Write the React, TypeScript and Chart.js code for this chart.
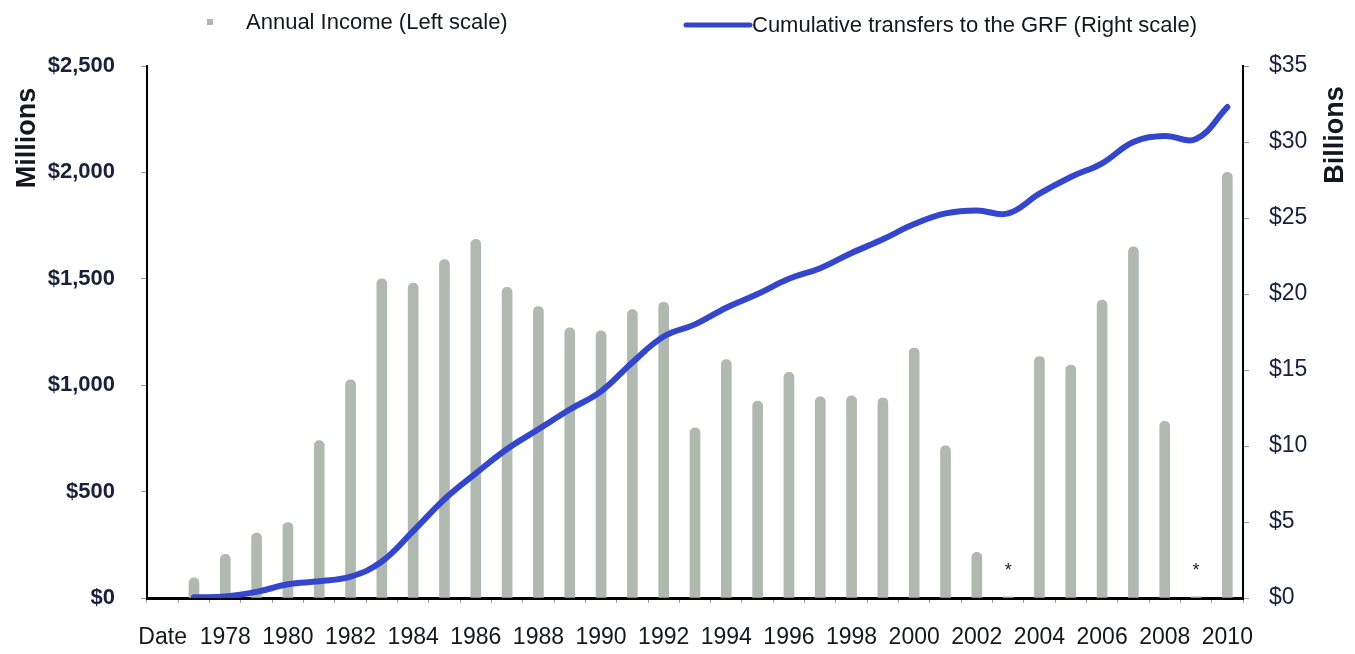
import React, { useEffect, useRef } from 'react';
import { Chart, registerables } from 'chart.js';

Chart.register(...registerables);

const categories = [
  'Date', '1977', '1978', '1979', '1980', '1981', '1982', '1983', '1984', '1985', '1986',
  '1987', '1988', '1989', '1990', '1991', '1992', '1993', '1994', '1995', '1996',
  '1997', '1998', '1999', '2000', '2001', '2002', '2003', '2004', '2005', '2006',
  '2007', '2008', '2009', '2010',
];

// Annual income, $ millions (left scale)
const annualIncome = [
  null, 95, 205, 305, 355, 740, 1025, 1500, 1480, 1590, 1685,
  1460, 1370, 1270, 1255, 1355, 1390, 800, 1120, 925, 1060,
  945, 950, 940, 1175, 715, 215, 5, 1135, 1095, 1400,
  1650, 830, 5, 2000,
];

// Cumulative transfers to the GRF, $ billions (right scale)
const cumulativeTransfers = [
  null, 0.05, 0.1, 0.4, 0.9, 1.1, 1.4, 2.4, 4.4, 6.5, 8.2,
  9.8, 11.1, 12.4, 13.6, 15.5, 17.2, 18.0, 19.1, 20.0, 21.0,
  21.7, 22.7, 23.6, 24.6, 25.3, 25.5, 25.3, 26.6, 27.7, 28.6,
  30.0, 30.4, 30.2, 32.3,
];

// Footnote markers shown above some years
const notes = [
  '', '', '', '', '', '', '', '', '', '', '',
  '', '', '', '', '', '', '', '', '', '',
  '', '', '', '', '', '', '*', '', '', '',
  '', '', '*', '',
];

const leftTicks = [0, 500, 1000, 1500, 2000, 2500];
const rightTicks = [0, 5, 10, 15, 20, 25, 30, 35];

const seriesLabels = ['Annual Income (Left scale)', 'Cumulative transfers to the GRF (Right scale)'];
const axisTitles = ['Millions', 'Billions'];

const FONT = '"Liberation Sans", Arial, Helvetica, sans-serif';
const BAR_COLOR = '#b0b9b0';
const LINE_COLOR = '#3447cc';
const TEXT = '#15171f';

const decorPlugin = {
  id: 'decor',
  afterDraw(chart: any) {
    const ctx = chart.ctx as CanvasRenderingContext2D;
    ctx.save();
    // legend
    ctx.fillStyle = BAR_COLOR;
    ctx.fillRect(207, 19, 6, 6);
    ctx.font = `22px ${FONT}`;
    ctx.fillStyle = TEXT;
    ctx.textAlign = 'left';
    ctx.textBaseline = 'middle';
    ctx.fillText(chart.data.datasets[0].label, 246, 23);
    ctx.strokeStyle = LINE_COLOR;
    ctx.lineWidth = 5;
    ctx.lineCap = 'round';
    ctx.beginPath();
    ctx.moveTo(686, 25);
    ctx.lineTo(750, 25);
    ctx.stroke();
    ctx.fillText(chart.data.datasets[1].label, 752, 26);

    // axis titles (both read bottom-to-top)
    ctx.font = `bold 27px ${FONT}`;
    ctx.textAlign = 'center';
    ctx.textBaseline = 'middle';
    ctx.fillStyle = TEXT;
    ctx.save();
    ctx.translate(28, 138);
    ctx.rotate(-Math.PI / 2);
    ctx.fillText(axisTitles[0], 0, 0);
    ctx.restore();
    ctx.save();
    ctx.translate(1336, 135);
    ctx.rotate(-Math.PI / 2);
    ctx.fillText(axisTitles[1], 0, 0);
    ctx.restore();

    // footnote markers
    const xs = chart.scales.x;
    const ys = chart.scales.y;
    ctx.font = `18px ${FONT}`;
    ctx.fillStyle = '#222';
    notes.forEach((n, i) => {
      if (n) {
        ctx.fillText(n, xs.getPixelForValue(i), ys.getPixelForValue(0) - 27);
      }
    });
    ctx.restore();
  },
};

export default function App() {
  const ref = useRef<HTMLCanvasElement | null>(null);

  useEffect(() => {
    document.body.style.margin = '0';
    const canvas = ref.current;
    if (!canvas) return;
    const chart = new Chart(canvas, {
      type: 'bar',
      data: {
        labels: categories,
        datasets: [
          {
            type: 'bar',
            label: seriesLabels[0],
            data: annualIncome,
            backgroundColor: BAR_COLOR,
            barThickness: 10,
            borderRadius: { topLeft: 5, topRight: 5, bottomLeft: 0, bottomRight: 0 },
            borderSkipped: 'bottom',
            yAxisID: 'y',
            order: 2,
          },
          {
            type: 'line',
            label: seriesLabels[1],
            data: cumulativeTransfers,
            borderColor: LINE_COLOR,
            borderWidth: 6,
            pointRadius: 0,
            tension: 0.4,
            fill: false,
            yAxisID: 'y1',
            order: 1,
            borderCapStyle: 'round',
          },
        ],
      },
      options: {
        responsive: false,
        animation: false,
        layout: { padding: { top: 66, left: 0, right: 0, bottom: 0 } },
        plugins: {
          legend: { display: false },
          tooltip: { enabled: false },
        },
        scales: {
          x: {
            offset: true,
            grid: {
              offset: true,
              drawOnChartArea: false,
              drawTicks: true,
              tickLength: 5,
              color: '#9a9a9a',
            },
            border: { display: true, color: '#000', width: 3 },
            ticks: {
              autoSkip: false,
              maxRotation: 0,
              minRotation: 0,
              padding: 21,
              color: TEXT,
              font: { family: FONT, size: 23 },
              callback: (_v: any, i: number) => {
                const c = categories[i];
                if (i === 0) return c;
                return Number(c) % 2 === 0 ? c : '';
              },
            },
            afterFit: (s: any) => { s.height = 56; },
          },
          y: {
            position: 'left',
            min: 0,
            max: 2500,
            afterBuildTicks: (s: any) => { s.ticks = leftTicks.map((v) => ({ value: v })); },
            grid: { drawOnChartArea: false, tickLength: 6, color: '#999' },
            border: { display: true, color: '#000', width: 2 },
            ticks: {
              padding: 26,
              color: '#17223a',
              font: { family: FONT, size: 22, weight: 'bold' },
              callback: (v: any) => '$' + Number(v).toLocaleString('en-US'),
            },
            afterFit: (s: any) => { s.width = 147; },
          },
          y1: {
            position: 'right',
            min: 0,
            max: 35,
            afterBuildTicks: (s: any) => { s.ticks = rightTicks.map((v) => ({ value: v })); },
            grid: { drawOnChartArea: false, tickLength: 6, color: '#999' },
            border: { display: true, color: '#000', width: 2 },
            ticks: {
              padding: 20,
              color: '#17223a',
              font: { family: FONT, size: 23 },
              callback: (v: any) => '$' + v,
            },
            afterFit: (s: any) => { s.width = 112; },
          },
        },
      },
      plugins: [decorPlugin],
    } as any);
    return () => chart.destroy();
  }, []);

  return (
    <div style={{ width: 1355, height: 654, background: '#fff' }}>
      <canvas ref={ref} width={1355} height={654} />
    </div>
  );
}
